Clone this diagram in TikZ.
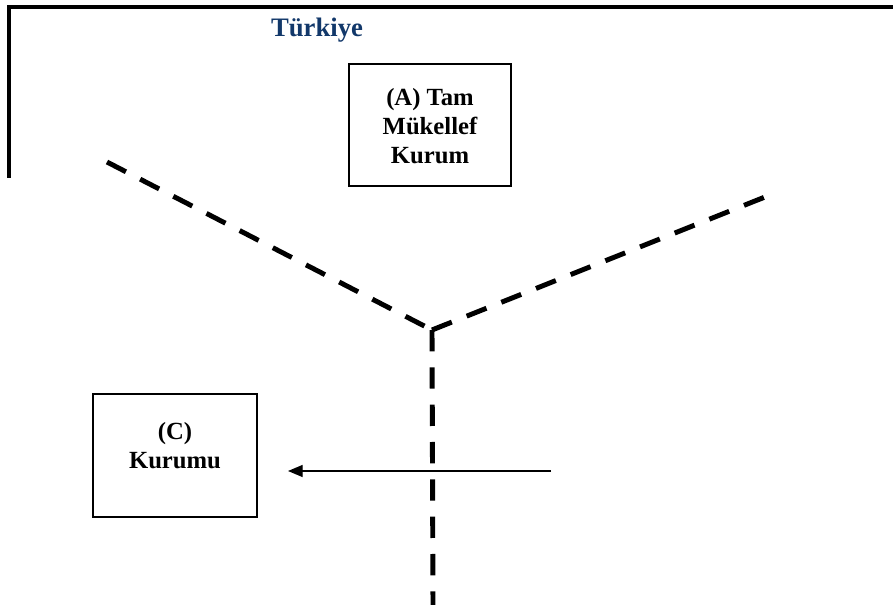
\documentclass[tikz,border=0pt]{standalone}
\usepackage{fontspec}
\setmainfont{Liberation Serif}
\usetikzlibrary{arrows.meta}

\definecolor{titleblue}{RGB}{18,56,106}

\tikzset{
    kurumbox/.style={draw, line width=1.5pt, minimum width=#1},
    kurumtext/.style={font=\fontsize{18.5}{21.5}\selectfont\bfseries, align=center},
    borderline/.style={draw, line width=2.3pt},
    ayrim/.style={line width=3.7pt, dash pattern=on 16pt off 12pt}
}

\begin{document}
\begin{tikzpicture}[x=0.75pt, y=-0.75pt]
    \useasboundingbox (0,0) rectangle (893,605);

    % Country border
    \draw[borderline] (9,178) -- (9,7) -- (893,7);
    \node[kurumtext, font=\fontsize{20}{22}\selectfont\bfseries, text=titleblue] (turkiye) at (317,30) {Türkiye};

    % Boxes
    \node[kurumbox=121.5pt, minimum height=91.5pt] (kurumA) at (430,125) {};
    \node[kurumtext] (kurumAtext) at (430,126) {(A) Tam\\Mükellef\\Kurum};

    \node[kurumbox=123pt, minimum height=92pt] (kurumC) at (175,455.5) {};
    \node[kurumtext] (kurumCtext) at (175,445.5) {(C)\\Kurumu};

    % Dashed separating lines
    \coordinate (sol) at (107,162);
    \coordinate (kesisim) at (432,330);
    \coordinate (sag) at (765,197);
    \coordinate (alt) at (433,605);
    \draw[ayrim] (sol) -- (kesisim);
    \draw[ayrim] (kesisim) -- (sag);
    \draw[ayrim] (kesisim) -- (alt);

    % Arrow towards (C)
    \coordinate (oksol) at (551,471);
    \draw[-{Triangle[length=11pt,width=9pt]}, line width=1pt, shorten >=22.5pt]
    (oksol) -- (kurumC.east |- oksol);
\end{tikzpicture}
\end{document}
